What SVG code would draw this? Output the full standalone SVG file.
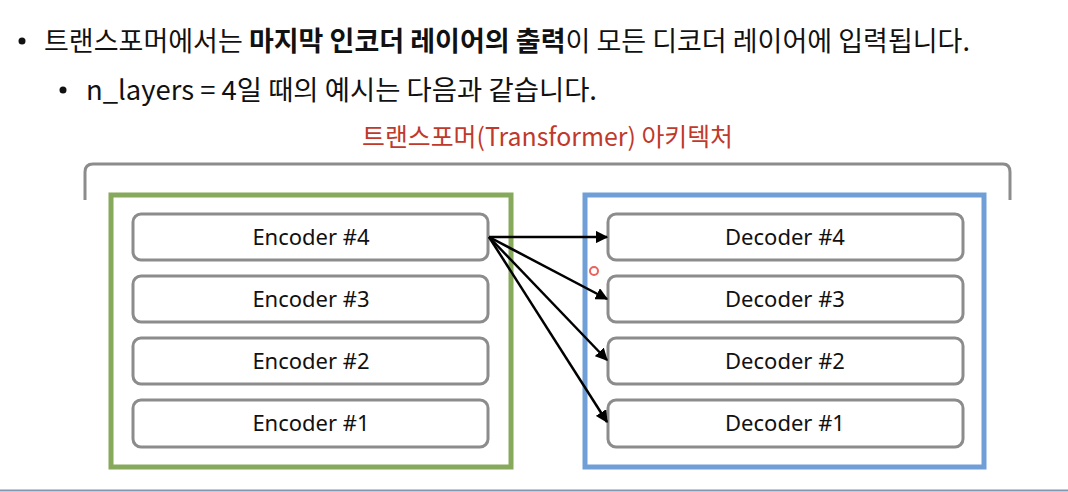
<svg xmlns="http://www.w3.org/2000/svg" width="1068" height="492" viewBox="0 0 1068 492">
<style>
.body{font-family:"Noto Sans CJK KR","Noto Sans",sans-serif;font-size:27px;fill:#111}
.b{font-weight:bold}
.title{font-family:"Noto Sans CJK KR","Noto Sans",sans-serif;font-size:25px;fill:#c0392b}
.layer rect{fill:#fff;stroke:#8c8c8c;stroke-width:3}
.layer text{font-family:"Noto Sans","Open Sans",sans-serif;font-size:22px;fill:#111;text-anchor:middle}
.conn line{stroke:#000;stroke-width:2.5;marker-end:url(#ah)}
</style>
<defs>
<marker id="ah" viewBox="0 0 10 10" refX="9" refY="5" markerWidth="5" markerHeight="5" orient="auto" markerUnits="strokeWidth">
<path d="M0,0 L10,5 L0,10 Z" fill="#000"/>
</marker>
</defs>
<rect width="1068" height="492" fill="#fff"/>
<g id="text-lines">
<circle cx="22" cy="41" r="3.5" fill="#111"/>
<text class="body" x="44" y="51" textLength="926" lengthAdjust="spacingAndGlyphs">트랜스포머에서는 <tspan class="b">마지막 인코더 레이어의 출력</tspan>이 모든 디코더 레이어에 입력됩니다.</text>
<circle cx="63" cy="90" r="3.5" fill="#111"/>
<text class="body" x="86" y="100" textLength="511" lengthAdjust="spacingAndGlyphs">n_layers = 4일 때의 예시는 다음과 같습니다.</text>
</g>
<g id="title">
<text class="title" x="362" y="146" textLength="371" lengthAdjust="spacingAndGlyphs">트랜스포머(Transformer) 아키텍처</text>
<path d="M85,200 L85,172 Q85,164 93,164 L1003,164 Q1010,164 1010,172 L1010,200" fill="none" stroke="#8c8c8c" stroke-width="3"/>
</g>
<g id="encoder-stack">
<rect x="111" y="195" width="400" height="272" fill="none" stroke="#87a95c" stroke-width="5"/>
</g>
<g id="decoder-stack">
<rect x="585" y="195" width="399" height="272" fill="none" stroke="#6f9fd6" stroke-width="5"/>
</g>
<g id="encoder4" class="layer"><rect x="133" y="214" width="355" height="46" rx="8"/><text x="311" y="245">Encoder #4</text></g>
<g id="encoder3" class="layer"><rect x="133" y="276" width="355" height="46" rx="8"/><text x="311" y="307">Encoder #3</text></g>
<g id="encoder2" class="layer"><rect x="133" y="338" width="355" height="46" rx="8"/><text x="311" y="369">Encoder #2</text></g>
<g id="encoder1" class="layer"><rect x="133" y="400" width="355" height="47" rx="8"/><text x="311" y="431">Encoder #1</text></g>
<g id="decoder4" class="layer"><rect x="608" y="214" width="355" height="46" rx="8"/><text x="785" y="245">Decoder #4</text></g>
<g id="decoder3" class="layer"><rect x="608" y="276" width="355" height="46" rx="8"/><text x="785" y="307">Decoder #3</text></g>
<g id="decoder2" class="layer"><rect x="608" y="338" width="355" height="46" rx="8"/><text x="785" y="369">Decoder #2</text></g>
<g id="decoder1" class="layer"><rect x="608" y="400" width="355" height="47" rx="8"/><text x="785" y="431">Decoder #1</text></g>
<g id="connectors" class="conn">
<line x1="489" y1="237" x2="607" y2="237"/>
<line x1="489" y1="237" x2="607" y2="299"/>
<line x1="489" y1="237" x2="607" y2="360"/>
<line x1="489" y1="237" x2="607" y2="422"/>
</g>
<circle cx="594" cy="271" r="4" fill="none" stroke="#e53935" stroke-width="2" opacity="0.8"/>
<line x1="0" y1="490.5" x2="1068" y2="490.5" stroke="#8496b0" stroke-width="2"/>
</svg>
